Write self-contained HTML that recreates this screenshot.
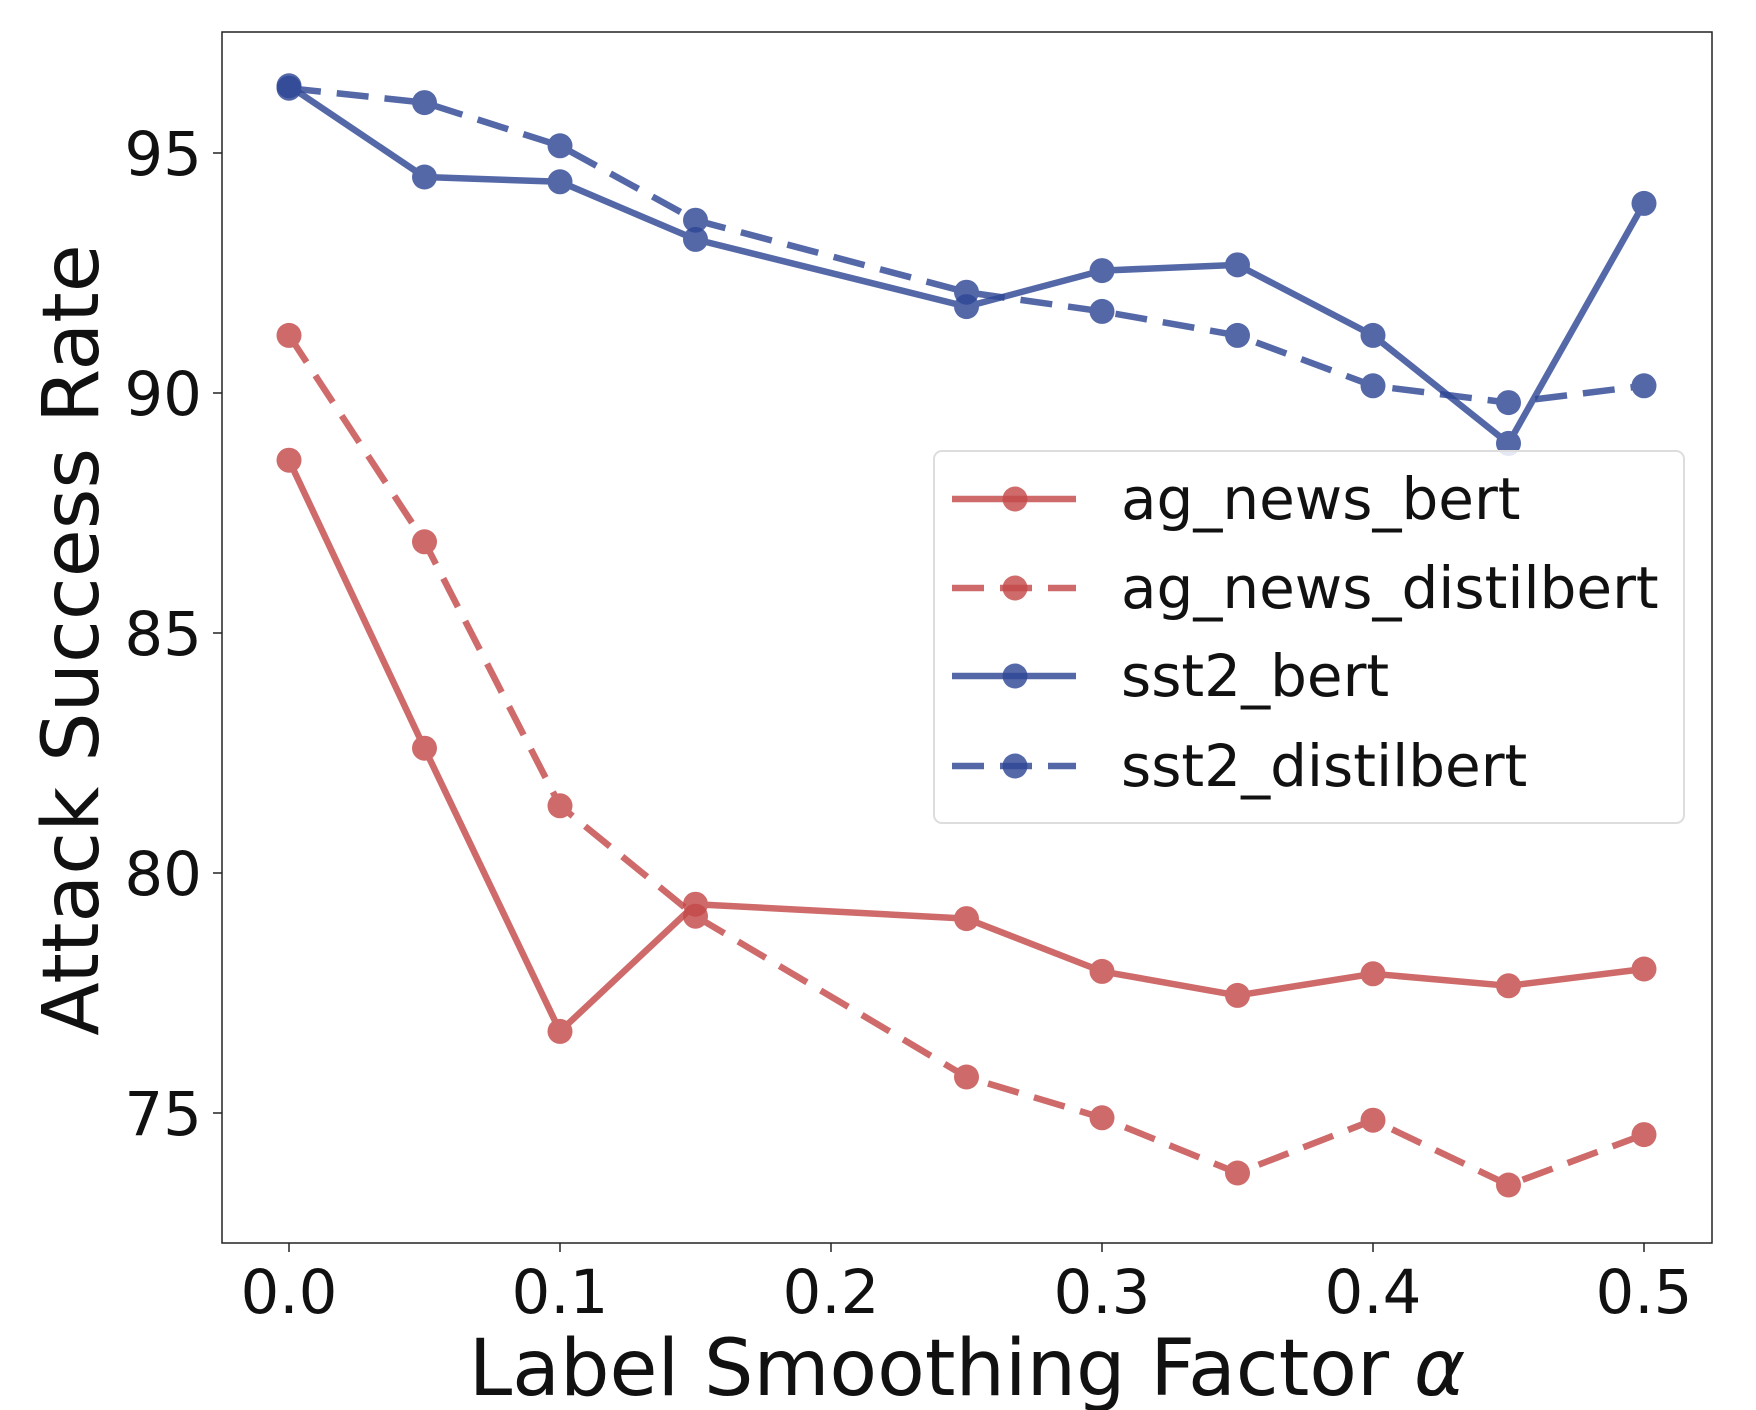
<!DOCTYPE html>
<html><head><meta charset="utf-8"><style>
html,body{margin:0;padding:0;background:#fff;}
svg{display:block;font-family:"DejaVu Sans","Liberation Sans",sans-serif;}
</style></head><body>
<svg id="chart" width="1756" height="1410" viewBox="0 0 1756 1410"></svg>
<script>
const xValues=[0,0.05,0.1,0.15,0.25,0.3,0.35,0.4,0.45,0.5];
const agNewsBert=[88.6,82.6,76.7,79.35,79.05,77.95,77.45,77.9,77.65,78.0];
const agNewsDistilbert=[91.2,86.9,81.4,79.1,75.75,74.9,73.75,74.85,73.5,74.55];
const sst2Bert=[96.4,94.5,94.4,93.2,91.8,92.55,92.67,91.2,88.95,93.95];
const sst2Distilbert=[96.35,96.05,95.15,93.6,92.1,91.7,91.2,90.15,89.8,90.15];
const xTicks=[0,0.1,0.2,0.3,0.4,0.5];
const xTickLabels=["0.0","0.1","0.2","0.3","0.4","0.5"];
const yTicks=[75,80,85,90,95];
const seriesNames=["ag_news_bert","ag_news_distilbert","sst2_bert","sst2_distilbert"];

const NS="http://www.w3.org/2000/svg";
const svg=document.getElementById('chart');
const L=222,R=1712,T=32,B=1243;
const xs=v=>289+(v/0.1)*271;
const ys=v=>153-(v-95)*48;
function mk(tag,attrs,parent){const e=document.createElementNS(NS,tag);for(const k in attrs)e.setAttribute(k,attrs[k]);(parent||svg).appendChild(e);return e;}

const frame=mk('rect',{x:L,y:T,width:R-L,height:B-T,fill:'none',stroke:'#222','stroke-width':1.5});



xTicks.forEach((v,i)=>{
  const g=mk('g',{});
  
  
  mk('line',{x1:xs(v),x2:xs(v),y1:B,y2:B+9,stroke:'#222','stroke-width':1.5},g);
  const t=mk('text',{x:xs(v),y:B+70,'font-size':61,'text-anchor':'middle',fill:'#111'},g);
  t.textContent=xTickLabels[i];
});
yTicks.forEach(v=>{
  const g=mk('g',{});
  
  
  mk('line',{x1:L-9,x2:L,y1:ys(v),y2:ys(v),stroke:'#222','stroke-width':1.5},g);
  const t=mk('text',{x:L-20,y:ys(v)+22,'font-size':61,'text-anchor':'end',fill:'#111'},g);
  t.textContent=String(v);
});

const xl=mk('text',{x:967,y:1395,'font-size':78,'text-anchor':'middle',fill:'#111'});


xl.innerHTML='Label Smoothing Factor <tspan font-style="italic">α</tspan>';
const yl=mk('text',{x:0,y:0,'font-size':78,'text-anchor':'middle',fill:'#111',transform:'translate(98,640) rotate(-90)'});


yl.textContent='Attack Success Rate';

const RED='#c44a4a',BLUE='#2f4896';
const series=[
 {name:seriesNames[0],vals:agNewsBert,color:RED,dash:null},
 {name:seriesNames[1],vals:agNewsDistilbert,color:RED,dash:'32,16'},
 {name:seriesNames[2],vals:sst2Bert,color:BLUE,dash:null},
 {name:seriesNames[3],vals:sst2Distilbert,color:BLUE,dash:'32,16'}
];
series.forEach(s=>{
  const g=mk('g',{opacity:0.82});
  
  
  const pts=s.vals.map((v,i)=>xs(xValues[i])+','+ys(v)).join(' ');
  const a={points:pts,fill:'none',stroke:s.color,'stroke-width':6.5,'stroke-linejoin':'round'};
  if(s.dash)a['stroke-dasharray']=s.dash;
  const pl=mk('polyline',a,g);
  
  
  s.vals.forEach((v,i)=>{
    const c=mk('circle',{cx:xs(xValues[i]),cy:ys(v),r:12.5,fill:s.color},g);
    
    
  });
});

const lg=mk('g',{});


mk('rect',{x:934,y:451,width:750,height:372,rx:8,fill:'#fff','fill-opacity':0.85,stroke:'#ddd','stroke-width':2},lg);
const ly=[499,588,676,766];
series.forEach((s,i)=>{
  const e=mk('g',{},lg);
  
  
  const la={x1:952,x2:1076,y1:ly[i],y2:ly[i],stroke:s.color,'stroke-width':6.5,opacity:0.82};
  if(s.dash)la['stroke-dasharray']='32,16';
  mk('line',la,e);
  mk('circle',{cx:1015,cy:ly[i],r:12.5,fill:s.color,opacity:0.82},e);
  const t=mk('text',{x:1121,y:ly[i]+20,'font-size':58,fill:'#111'},e);
  t.textContent=s.name;
});
</script>
</body></html>
